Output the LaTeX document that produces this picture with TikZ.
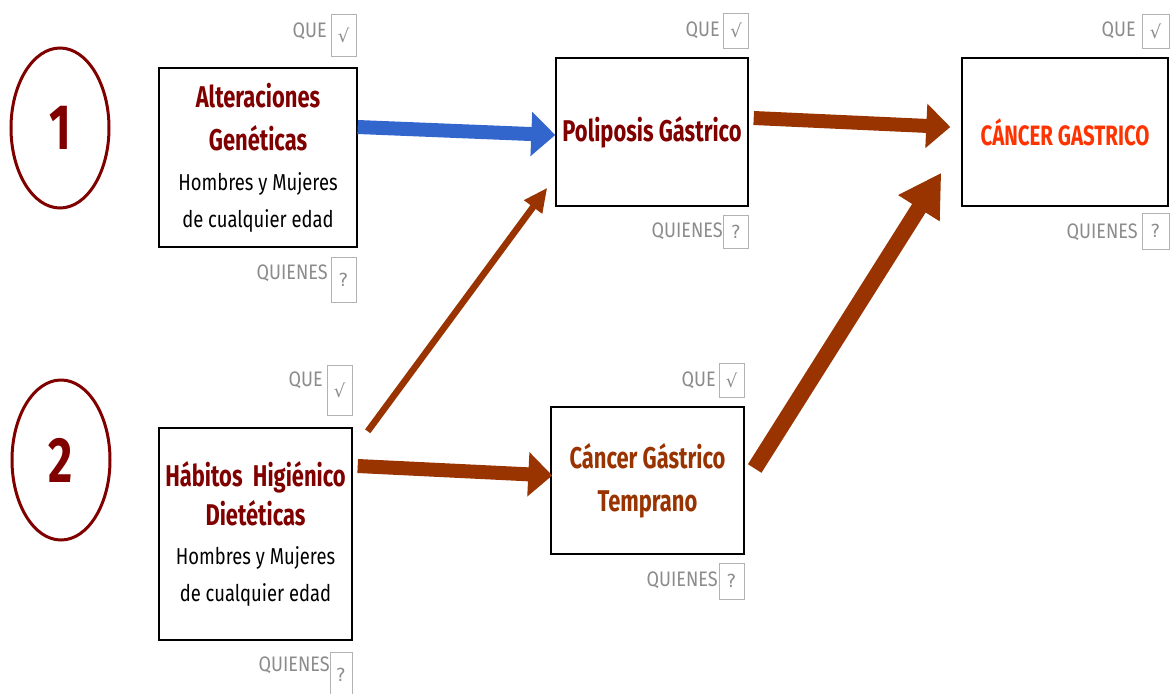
\documentclass[tikz,border=0pt]{standalone}
\usepackage{fontspec}
\setmainfont{Fira Sans}
\newfontfamily\ttlf[FakeStretch=0.73]{Fira Sans}
\newfontfamily\bodyf[FakeStretch=0.8]{Fira Sans}
\newfontfamily\qf[FakeStretch=0.86]{Fira Sans}
\newfontfamily\symf{DejaVu Sans}
\usetikzlibrary{arrows.meta,shapes.geometric}
\definecolor{dred}{HTML}{800000}
\definecolor{brn}{HTML}{993300}
\definecolor{blu}{HTML}{3366CC}
\definecolor{org}{HTML}{FF3300}
\definecolor{tagg}{HTML}{8C8C8C}
\tikzset{
  box/.style={draw=black, line width=1.4pt, fill=white, inner sep=0pt, align=center,
    font=\bodyf\fontsize{23}{37}\selectfont},
  numc/.style={draw=dred, line width=3pt, ellipse, minimum width=98, minimum height=160,
    inner sep=0pt, text=dred, font=\ttlf\bfseries\fontsize{64}{64}\selectfont},
  tagbox/.style={draw=gray!60, line width=0.9pt, minimum width=25, inner sep=0pt,
    text=tagg, font=\symf\fontsize{18}{18}\selectfont},
  tagtxt/.style={anchor=east, inner sep=0pt, text=tagg, font=\qf\fontsize{21}{21}\selectfont},
  bigarrow/.style={line width=14pt, -{Triangle[width=43pt,length=24pt]}},
}
\newcommand{\ttl}[2]{{\ttlf\bfseries\fontsize{30}{37}\selectfont\color{#1}#2}}
\begin{document}
\begin{tikzpicture}[x=1pt,y=-1pt]
\useasboundingbox[fill=white] (0,0) rectangle (1171,694);

% number circles
\node[numc] (n1) at (60,128) {1};
\node[numc] (n2) at (61,460) {2};

% boxes
\node[box, minimum width=198, minimum height=179] (A) at (258,157.5)
  {\ttl{dred}{Alteraciones}\\[6pt]\ttl{dred}{Genéticas}\\[3pt]Hombres y Mujeres\\de cualquier edad};
\node[box, minimum width=192, minimum height=148] (B) at (652,132)
  {\ttl{dred}{Poliposis Gástrico}};
\node[box, minimum width=206, minimum height=148] (C) at (1065,132)
  {\ttl{org}{\fontsize{28}{30}\selectfont CÁNCER GASTRICO}};
\node[box, minimum width=193, minimum height=212] (D) at (255.5,534)
  {\ttl{dred}{Hábitos\ \ Higiénico}\\[2pt]\ttl{dred}{Dietéticas}\\[2pt]Hombres y Mujeres\\de cualquier edad};
\node[box, minimum width=193, minimum height=147] (E) at (647.5,480.5)
  {\ttl{brn}{Cáncer Gástrico}\\[6pt]\ttl{brn}{Temprano}};

% QUE / QUIENES tags
\node[tagbox, minimum height=42] (qA) at (343.5,35) {√};
\node[tagtxt] (qAt) at (327,31) {QUE};
\node[tagbox, minimum height=45] (wA) at (343.5,279.5) {?};
\node[tagtxt] (wAt) at (328,273) {QUIENES};

\node[tagbox, minimum height=35] (qB) at (736,30.5) {√};
\node[tagtxt] (qBt) at (720,30) {QUE};
\node[tagbox, minimum height=33] (wB) at (736,231.5) {?};
\node[tagtxt] (wBt) at (723,231) {QUIENES};

\node[tagbox, minimum width=27, minimum height=34] (qC) at (1155.5,31) {√};
\node[tagtxt] (qCt) at (1136,30) {QUE};
\node[tagbox, minimum width=27, minimum height=36] (wC) at (1155.5,231) {?};
\node[tagtxt] (wCt) at (1138,232) {QUIENES};

\node[tagbox, minimum height=50] (qD) at (339.5,390) {√};
\node[tagtxt] (qDt) at (323,380) {QUE};
\node[tagbox, minimum width=22, minimum height=46] (wD) at (341,675) {?};
\node[tagtxt] (wDt) at (330,665) {QUIENES};

\node[tagbox, minimum height=34] (qE) at (731.5,380) {√};
\node[tagtxt] (qEt) at (716,380) {QUE};
\node[tagbox, minimum height=36] (wE) at (731.5,581) {?};
\node[tagtxt] (wEt) at (718,580) {QUIENES};

% arrows
\draw[bigarrow, blu] ([yshift=30.5pt]A.east) -- ([yshift=-3pt]B.west);
\draw[bigarrow, brn] ([xshift=5pt,yshift=14pt]B.east) -- ([xshift=-11pt,yshift=5pt]C.west);
\draw[brn, line width=6.5pt, -{Triangle[width=21pt,length=24pt]}]
  ([xshift=15pt,yshift=-4pt]D.north east) -- ([xshift=-8pt,yshift=19pt]B.south west);
\draw[bigarrow, brn] ([xshift=5pt,yshift=68pt]D.east) -- ([xshift=2pt,yshift=5pt]E.west);
\draw[brn, line width=16pt, -{Triangle[width=46pt,length=42pt]}]
  ([xshift=10pt,yshift=12pt]E.east) -- ([xshift=-20pt,yshift=34pt]C.south west);
\end{tikzpicture}
\end{document}
